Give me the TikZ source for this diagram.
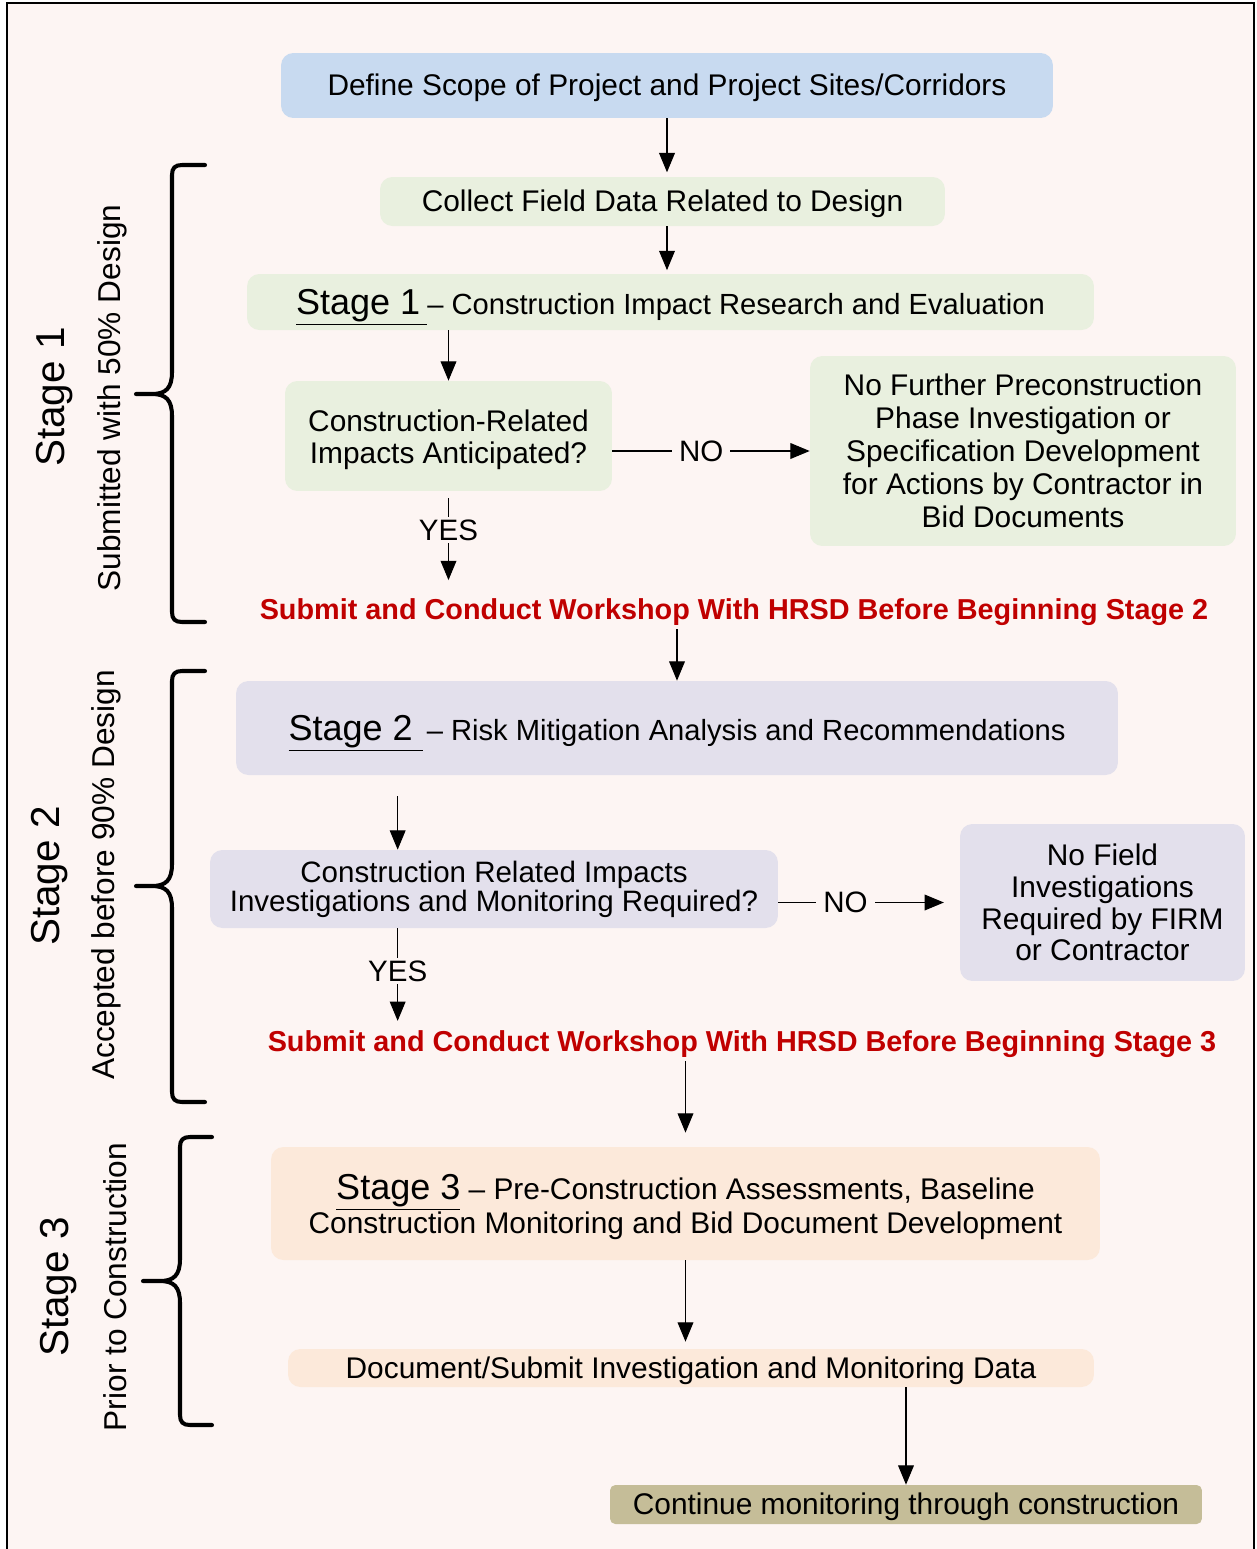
\documentclass[tikz,border=0pt]{standalone}
\usepackage{fontspec}
\setmainfont{Liberation Sans}
\usepackage{tikz}
\usetikzlibrary{arrows.meta}
\definecolor{pagebg}{RGB}{253,245,243}
\definecolor{scopeblue}{RGB}{200,218,240}
\definecolor{stageonegreen}{RGB}{233,240,223}
\definecolor{stagetwolilac}{RGB}{227,224,236}
\definecolor{stagethreepeach}{RGB}{252,233,218}
\definecolor{contkhaki}{RGB}{197,189,152}
\definecolor{workshopred}{RGB}{192,0,0}
\tikzset{stepbox/.style={rounded corners=7pt,inner sep=0pt,align=center,font=\fontsize{17}{18.7}\selectfont}}
\tikzset{oneline/.style={text height=15pt,text depth=3.5pt}}
\tikzset{headline/.style={text height=19.2pt,text depth=5pt,font=\fontsize{16.6}{18.7}\selectfont}}
\tikzset{flow/.style={-{Triangle[width=9pt,length=11pt]},line width=0.6pt}}
\tikzset{answer/.style={fill=pagebg,inner xsep=4pt,inner ysep=1.5pt,font=\fontsize{16.8}{18.7}\selectfont}}
\tikzset{workshop/.style={text=workshopred,inner sep=2pt,font=\fontsize{16.4}{19}\selectfont\bfseries}}
\tikzset{bracket/.style={line width=2.3pt,line cap=round,line join=round}}
\tikzset{stagename/.style={rotate=90,inner sep=0pt,font=\fontsize{23}{26}\selectfont}}
\tikzset{stagenote/.style={rotate=90,inner sep=0pt,font=\fontsize{18}{21}\selectfont}}

\begin{document}
\begin{tikzpicture}[x=0.02cm,y=-0.02cm]
    \useasboundingbox (0,0) rectangle (1257,1549);
    % frame
    \fill[white] (0,0) rectangle (1257,1549);
    \fill[pagebg] (7,3) rectangle (1254,1549);
    \draw[line width=1.2pt] (7,1549) -- (7,3) -- (1254,3) -- (1254,1549);

    % stage 1
    \node[stepbox,oneline,fill=scopeblue,minimum width=15.44cm,minimum height=1.3cm] (scope) at (667,85.5) {Define Scope of Project and Project Sites/Corridors};
    \node[stepbox,oneline,fill=stageonegreen,minimum width=11.3cm,minimum height=0.98cm] (collect) at (662.5,201.5) {Collect Field Data Related to Design};
    \node[stepbox,headline,fill=stageonegreen,minimum width=16.94cm,minimum height=1.12cm] (stone) at (670.5,302) {{\fontsize{20.5}{24}\selectfont\underline{Stage 1\hspace{4pt}}}– Construction Impact Research and Evaluation};
    \node[stepbox,fill=stageonegreen,minimum width=6.54cm,minimum height=2.2cm] (askone) at (448.5,436) {\rule{0pt}{16.6pt}Construction-Related\\Impacts Anticipated?};
    \node[stepbox,fill=stageonegreen,minimum width=8.52cm,minimum height=3.8cm] (nomoreone) at (1023,451) {No Further Preconstruction\\Phase Investigation or\\Specification Development\\for Actions by Contractor in\\Bid Documents};
    \node[workshop,oneline] (shopone) at (734,609) {Submit and Conduct Workshop With HRSD Before Beginning Stage 2};

    % stage 2
    \node[stepbox,headline,fill=stagetwolilac,minimum width=17.64cm,minimum height=1.88cm] (sttwo) at (677,728) {{\fontsize{20.5}{24}\selectfont\underline{Stage 2\hspace{6pt}}}\hspace{2pt}– Risk Mitigation Analysis and Recommendations};
    \node[stepbox,fill=stagetwolilac,minimum width=11.36cm,minimum height=1.56cm,font=\fontsize{16.8}{15.5}\selectfont] (asktwo) at (494,889) {Construction Related Impacts\\Investigations and Monitoring Required?};
    \node[stepbox,fill=stagetwolilac,minimum width=5.7cm,minimum height=3.14cm,font=\fontsize{17}{18.1}\selectfont] (nomoretwo) at (1102.5,902.5) {No Field\\Investigations\\Required by FIRM\\or Contractor};
    \node[workshop,oneline] (shoptwo) at (742,1041) {Submit and Conduct Workshop With HRSD Before Beginning Stage 3};
    \coordinate (twodrop) at ([xshift=3.76cm]asktwo.north west);

    % stage 3
    \node[stepbox,fill=stagethreepeach,minimum width=16.58cm,minimum height=2.26cm,font=\fontsize{17}{19.8}\selectfont] (stthree) at (685.5,1203.5) {\rule{0pt}{18.4pt}{\fontsize{20.5}{24}\selectfont\underline{Stage 3}} – Pre-Construction Assessments, Baseline\\Construction Monitoring and Bid Document Development};
    \node[stepbox,oneline,fill=stagethreepeach,minimum width=16.12cm,minimum height=0.76cm] (docdata) at (691,1368) {Document/Submit Investigation and Monitoring Data};
    \node[stepbox,oneline,fill=contkhaki,rounded corners=3pt,minimum width=11.84cm,minimum height=0.78cm] (keepwatch) at (906,1504.5) {Continue monitoring through construction};

    % arrows
    \draw[flow,shorten >=2.5pt] (scope.south) -- (scope.south |- collect.north);
    \draw[flow,shorten >=2pt] (collect.south -| scope.south) -- (stone.north -| scope.south);
    \draw[flow] (askone.north |- stone.south) -- (askone.north);
    \draw[flow] (askone.east |- nomoreone.west) -- node[answer,pos=0.45] (noone) {NO} (nomoreone.west);
    \draw[flow,shorten >=5pt] ([yshift=-4pt]askone.south) -- node[answer,pos=0.35] (yesone) {YES} (askone.south |- shopone.north);
    \draw[flow] (shopone.south -| sttwo.north) -- (sttwo.north);
    \draw[flow,shorten <=12pt] (twodrop |- sttwo.south) -- (twodrop);
    \draw[flow,shorten >=9pt] (asktwo.east |- nomoretwo.west) -- node[answer,pos=0.37] (notwo) {NO} (nomoretwo.west);
    \draw[flow] (twodrop |- asktwo.south) -- node[answer,pos=0.46] (yestwo) {YES} (twodrop |- shoptwo.north);
    \draw[flow,shorten >=8pt] (shoptwo.south -| stthree.north) -- (stthree.north);
    \draw[flow,shorten >=4pt] (stthree.south) -- (stthree.south |- docdata.north);
    \draw[flow] (keepwatch.north |- docdata.south) -- (keepwatch.north);

    % braces
    \draw[bracket] (205,165) -- (182,165) .. controls (175,165) and (172,168) .. (172,175) -- (172,372) .. controls (172,388) and (166,394) .. (152,394) -- (136,394) -- (152,394) .. controls (166,394) and (172,400) .. (172,416) -- (172,612) .. controls (172,619) and (175,622) .. (182,622) -- (205,622);
    \draw[bracket] (205,671) -- (182,671) .. controls (175,671) and (172,674) .. (172,681) -- (172,864) .. controls (172,880) and (166,886) .. (152,886) -- (136,886) -- (152,886) .. controls (166,886) and (172,892) .. (172,908) -- (172,1092) .. controls (172,1099) and (175,1102) .. (182,1102) -- (205,1102);
    \draw[bracket] (212,1137) -- (190,1137) .. controls (183,1137) and (180,1140) .. (180,1147) -- (180,1259) .. controls (180,1275) and (174,1281) .. (160,1281) -- (143,1281) -- (160,1281) .. controls (174,1281) and (180,1287) .. (180,1303) -- (180,1415) .. controls (180,1422) and (183,1425) .. (190,1425) -- (212,1425);

    % stage labels
    \node[stagename] (labone) at (55,397) {Stage 1};
    \node[stagenote] (noteone) at (112,398) {Submitted with 50\% Design};
    \node[stagename] (labtwo) at (50,876) {Stage 2};
    \node[stagenote] (notetwo) at (106,875) {Accepted before 90\% Design};
    \node[stagename] (labthree) at (59,1287) {Stage 3};
    \node[stagenote] (notethree) at (115,1287) {Prior to Construction};
\end{tikzpicture}
\end{document}
